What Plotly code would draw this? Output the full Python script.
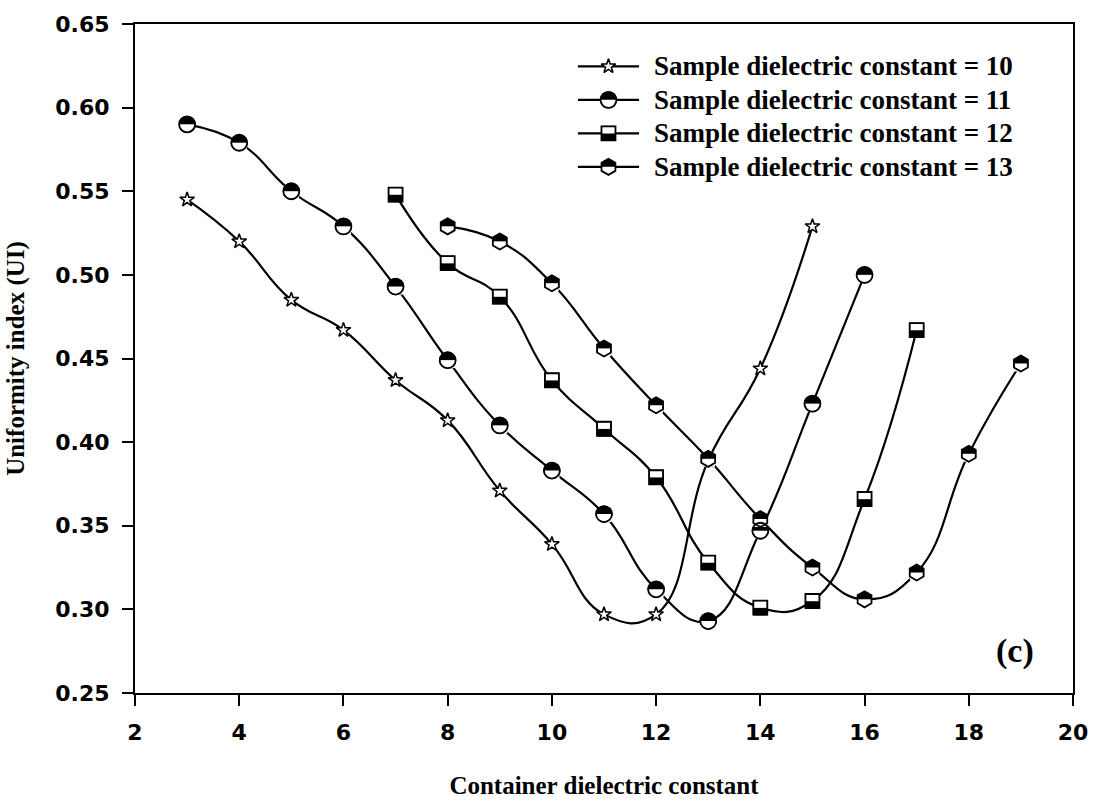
import plotly.graph_objects as go

# ---------------- data ----------------
container_k10 = [3, 4, 5, 6, 7, 8, 9, 10, 11, 12, 13, 14, 15]
ui_k10 = [0.545, 0.520, 0.485, 0.467, 0.437, 0.413, 0.371, 0.339, 0.297, 0.297, 0.389, 0.444, 0.529]

container_k11 = [3, 4, 5, 6, 7, 8, 9, 10, 11, 12, 13, 14, 15, 16]
ui_k11 = [0.590, 0.579, 0.550, 0.529, 0.493, 0.449, 0.410, 0.383, 0.357, 0.312, 0.293, 0.347, 0.423, 0.500]

container_k12 = [7, 8, 9, 10, 11, 12, 13, 14, 15, 16, 17]
ui_k12 = [0.548, 0.507, 0.487, 0.437, 0.408, 0.379, 0.328, 0.301, 0.305, 0.366, 0.467]

container_k13 = [8, 9, 10, 11, 12, 13, 14, 15, 16, 17, 18, 19]
ui_k13 = [0.529, 0.520, 0.495, 0.456, 0.422, 0.390, 0.354, 0.325, 0.306, 0.322, 0.393, 0.447]

series_labels = [
    "Sample dielectric constant = 10",
    "Sample dielectric constant = 11",
    "Sample dielectric constant = 12",
    "Sample dielectric constant = 13",
]
series_kinds = ["star", "circle", "square", "hexagon"]
series_x = [container_k10, container_k11, container_k12, container_k13]
series_y = [ui_k10, ui_k11, ui_k12, ui_k13]

x_tick_vals = [2, 4, 6, 8, 10, 12, 14, 16, 18, 20]
y_tick_vals = [0.25, 0.30, 0.35, 0.40, 0.45, 0.50, 0.55, 0.60, 0.65]

x_title = "Container dielectric constant"
y_title = "Uniformity index (UI)"
panel_tag = "(c)"

# ---------------- layout geometry / styles ----------------
W, H = 1100, 807
ML, MR, MT, MB = 135, 20, 20, 108
PLOT_W = W - ML - MR
PLOT_H = H - MT - MB
X_RANGE = [2, 20]
Y_RANGE = [0.25, 0.65]
SHIFT_PX = 4          # half-marker cover offset (pixels)
LINE_W = 2.2
SMOOTH = 1.3
SERIF = "Liberation Serif"
SANS = "DejaVu Sans"

# marker layer styles: base (full marker), cover (half bar), outline
STYLE = {
    "star": dict(
        base=dict(symbol="star", size=11, color="white", line=dict(color="black", width=1.5)),
        cover=None, outline=None),
    "circle": dict(
        base=dict(symbol="circle", size=16, color="black", line=dict(color="black", width=1)),
        cover=dict(symbol="line-ew", size=15.2 / 1.4, color="white", line=dict(color="white", width=8)),
        outline=dict(symbol="circle-open", size=16, color="black", line=dict(color="black", width=1.8))),
    "square": dict(
        base=dict(symbol="square", size=14, color="white", line=dict(color="black", width=1)),
        cover=dict(symbol="line-ew", size=14 / 1.4, color="black", line=dict(color="black", width=7.5)),
        outline=dict(symbol="square-open", size=14, color="black", line=dict(color="black", width=1.8))),
    "hexagon": dict(
        base=dict(symbol="hexagon", size=16, color="black", line=dict(color="black", width=1)),
        cover=dict(symbol="line-ew", size=13.6 / 1.4, color="white", line=dict(color="white", width=8)),
        outline=dict(symbol="hexagon-open", size=16, color="black", line=dict(color="black", width=1.8))),
}

fig = go.Figure()

# ---------- main plot: lines ----------
for xs, ys in zip(series_x, series_y):
    fig.add_trace(go.Scatter(x=xs, y=ys, mode="lines", xaxis="x", yaxis="y",
                             line=dict(color="black", width=LINE_W, shape="spline", smoothing=SMOOTH),
                             hoverinfo="skip"))
# ---------- main plot: base markers ----------
for xs, ys, k in zip(series_x, series_y, series_kinds):
    fig.add_trace(go.Scatter(x=xs, y=ys, mode="markers", xaxis="x", yaxis="y",
                             marker=STYLE[k]["base"], hoverinfo="skip"))
# ---------- half covers (shifted overlay axis) ----------
for xs, ys, k in zip(series_x, series_y, series_kinds):
    if STYLE[k]["cover"]:
        fig.add_trace(go.Scatter(x=xs, y=ys, mode="markers", xaxis="x", yaxis="y2",
                                 marker=STYLE[k]["cover"], hoverinfo="skip"))
# ---------- outlines ----------
for xs, ys, k in zip(series_x, series_y, series_kinds):
    if STYLE[k]["outline"]:
        fig.add_trace(go.Scatter(x=xs, y=ys, mode="markers", xaxis="x", yaxis="y3",
                                 marker=STYLE[k]["outline"], hoverinfo="skip"))

# ---------- legend (own small axes) ----------
LEG_X0_PX, LEG_X1_PX = 581, 643
LEG_TEXT_PX = 656
LEG_ROW0_PX, LEG_ROW_STEP = 63, 34
n = len(series_labels)
rows = list(range(n))
leg_top_px = LEG_ROW0_PX - LEG_ROW_STEP / 2
leg_bot_px = LEG_ROW0_PX + (n - 0.5) * LEG_ROW_STEP
leg_dom_x = [(LEG_X0_PX - ML) / PLOT_W, (LEG_X1_PX - ML) / PLOT_W]
leg_dom_y = [1 - (leg_bot_px - MT) / PLOT_H, 1 - (leg_top_px - MT) / PLOT_H]
leg_y_range = [n - 0.5, -0.5]
d_leg = SHIFT_PX / LEG_ROW_STEP

for i in rows:
    fig.add_trace(go.Scatter(x=[0, 1], y=[i, i], mode="lines", xaxis="x2", yaxis="y4",
                             line=dict(color="black", width=LINE_W), hoverinfo="skip"))
for i, k in zip(rows, series_kinds):
    fig.add_trace(go.Scatter(x=[0.5], y=[i], mode="markers", xaxis="x2", yaxis="y4",
                             marker=STYLE[k]["base"], hoverinfo="skip"))
for i, k in zip(rows, series_kinds):
    if STYLE[k]["cover"]:
        fig.add_trace(go.Scatter(x=[0.5], y=[i], mode="markers", xaxis="x2", yaxis="y5",
                                 marker=STYLE[k]["cover"], hoverinfo="skip"))
for i, k in zip(rows, series_kinds):
    if STYLE[k]["outline"]:
        fig.add_trace(go.Scatter(x=[0.5], y=[i], mode="markers", xaxis="x2", yaxis="y6",
                                 marker=STYLE[k]["outline"], hoverinfo="skip"))

annotations = []
for i, lab in zip(rows, series_labels):
    row_px = LEG_ROW0_PX + i * LEG_ROW_STEP
    annotations.append(dict(x=(LEG_TEXT_PX - ML) / PLOT_W, y=1 - (row_px - MT) / PLOT_H,
                            xref="paper", yref="paper", text=lab, showarrow=False,
                            xanchor="left", yanchor="middle",
                            font=dict(family=SERIF, size=27, color="black", weight="bold")))
annotations.append(dict(x=(1022 - ML) / PLOT_W, y=1 - (656 - MT) / PLOT_H, xref="paper", yref="paper",
                        text=panel_tag, showarrow=False, xanchor="center", yanchor="middle",
                        font=dict(family=SERIF, size=34, color="black", weight="bold")))

d_main = SHIFT_PX * (Y_RANGE[1] - Y_RANGE[0]) / PLOT_H
hidden = dict(visible=False, showgrid=False, zeroline=False, fixedrange=True)

fig.update_layout(
    width=W, height=H,
    margin=dict(l=ML, r=MR, t=MT, b=MB),
    paper_bgcolor="white", plot_bgcolor="rgba(0,0,0,0)",
    showlegend=False,
    annotations=annotations,
    xaxis=dict(range=X_RANGE, tickvals=x_tick_vals, ticks="outside", ticklen=11, tickwidth=2,
               tickcolor="black", showline=True, linewidth=2, linecolor="black", mirror=True,
               showgrid=False, zeroline=False, ticklabelstandoff=8,
               tickfont=dict(family=SANS, size=22, color="black", weight="bold"),
               title=dict(text=x_title, standoff=32,
                          font=dict(family=SERIF, size=25, color="black", weight="bold"))),
    yaxis=dict(range=Y_RANGE, tickvals=y_tick_vals, tickformat=".2f", ticks="outside", ticklen=11,
               tickwidth=2, tickcolor="black", showline=True, linewidth=2, linecolor="black",
               mirror=True, showgrid=False, zeroline=False, ticklabelstandoff=8,
               tickfont=dict(family=SANS, size=22, color="black", weight="bold"),
               title=dict(text=y_title, standoff=24,
                          font=dict(family=SERIF, size=25, color="black", weight="bold"))),
    yaxis2=dict(range=[Y_RANGE[0] + d_main, Y_RANGE[1] + d_main], overlaying="y", anchor="x", **hidden),
    yaxis3=dict(range=Y_RANGE, overlaying="y", anchor="x", **hidden),
    xaxis2=dict(range=[0, 1], domain=leg_dom_x, anchor="y4", **hidden),
    yaxis4=dict(range=leg_y_range, domain=leg_dom_y, anchor="x2", **hidden),
    yaxis5=dict(range=[leg_y_range[0] - d_leg, leg_y_range[1] - d_leg], overlaying="y4", anchor="x2", **hidden),
    yaxis6=dict(range=leg_y_range, overlaying="y4", anchor="x2", **hidden),
)

fig.write_html("out.html")
